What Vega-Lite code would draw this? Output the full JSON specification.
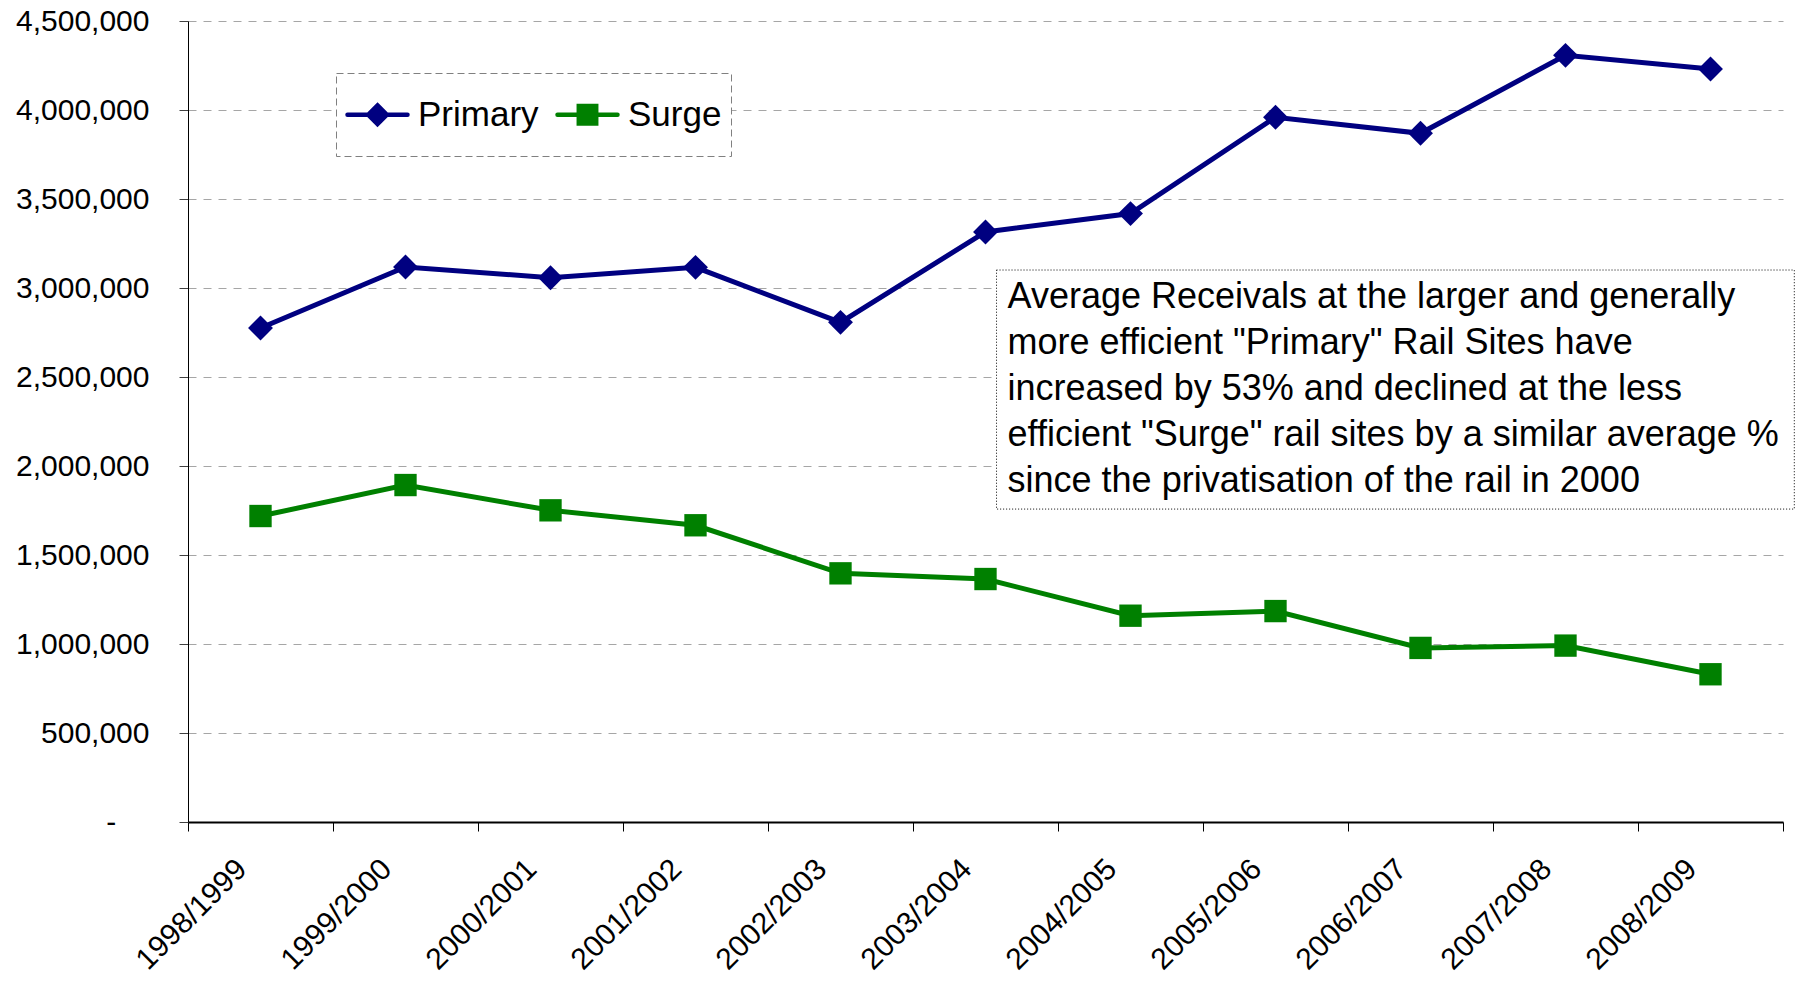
{
  "$schema": "https://vega.github.io/schema/vega-lite/v6.json",
  "width": 1595,
  "height": 801,
  "autosize": "none",
  "padding": {"left": 188, "top": 21, "right": 15, "bottom": 163},
  "background": "white",
  "config": {"font": "Liberation Sans", "view": {"stroke": null}},
  "data": {
    "values": [
      {"year": "1998/1999", "series": "Primary", "value": 2775000},
      {"year": "1999/2000", "series": "Primary", "value": 3118000},
      {"year": "2000/2001", "series": "Primary", "value": 3058000},
      {"year": "2001/2002", "series": "Primary", "value": 3116000},
      {"year": "2002/2003", "series": "Primary", "value": 2807000},
      {"year": "2003/2004", "series": "Primary", "value": 3315000},
      {"year": "2004/2005", "series": "Primary", "value": 3418000},
      {"year": "2005/2006", "series": "Primary", "value": 3959000},
      {"year": "2006/2007", "series": "Primary", "value": 3869000},
      {"year": "2007/2008", "series": "Primary", "value": 4307000},
      {"year": "2008/2009", "series": "Primary", "value": 4230000},
      {"year": "1998/1999", "series": "Surge", "value": 1719000},
      {"year": "1999/2000", "series": "Surge", "value": 1893000},
      {"year": "2000/2001", "series": "Surge", "value": 1751000},
      {"year": "2001/2002", "series": "Surge", "value": 1667000},
      {"year": "2002/2003", "series": "Surge", "value": 1397000},
      {"year": "2003/2004", "series": "Surge", "value": 1365000},
      {"year": "2004/2005", "series": "Surge", "value": 1159000},
      {"year": "2005/2006", "series": "Surge", "value": 1185000},
      {"year": "2006/2007", "series": "Surge", "value": 978000},
      {"year": "2007/2008", "series": "Surge", "value": 991000},
      {"year": "2008/2009", "series": "Surge", "value": 830000}
    ]
  },
  "layer": [
    {
      "encoding": {
        "x": {
          "field": "year",
          "type": "nominal",
          "sort": null,
          "scale": {"type": "band", "paddingInner": 0, "paddingOuter": 0},
          "axis": {
            "title": null,
            "labelAngle": -45,
            "labelAlign": "right",
            "labelBaseline": "middle",
            "labelFontSize": 30,
            "labelFont": "Liberation Sans",
            "labelColor": "black",
            "labelPadding": 33,
            "labelOffset": -19,
            "tickSize": 9,
            "tickColor": "black",
            "tickWidth": 1,
            "tickBand": "extent",
            "domainColor": "black",
            "domainWidth": 2,
            "grid": false
          }
        },
        "y": {
          "field": "value",
          "type": "quantitative",
          "scale": {"domain": [0, 4500000], "nice": false, "zero": true},
          "axis": {
            "title": null,
            "values": [0, 500000, 1000000, 1500000, 2000000, 2500000, 3000000, 3500000, 4000000, 4500000],
            "labelExpr": "datum.value === 0 ? '-\u00a0\u00a0\u00a0\u00a0\u200b' : format(datum.value, ',')",
            "labelFontSize": 30,
            "labelFont": "Liberation Sans",
            "labelColor": "black",
            "labelPadding": 30,
            "tickSize": 9,
            "tickColor": "#404040",
            "domainColor": "black",
            "domainWidth": 1,
            "grid": true,
            "gridDash": [8, 7],
            "gridColor": "#a6a6a6",
            "gridWidth": 1
          }
        },
        "color": {
          "field": "series",
          "type": "nominal",
          "scale": {"domain": ["Primary", "Surge"], "range": ["#000080", "#008000"]},
          "legend": {
            "orient": "none",
            "legendX": 148,
            "legendY": 52,
            "direction": "horizontal",
            "title": null,
            "labelFontSize": 35,
            "labelFont": "Liberation Sans",
            "labelColor": "black",
            "symbolSize": 3600,
            "labelOffset": 8,
            "columnPadding": 9,
            "padding": 9,
            "strokeColor": "#808080",
            "fillColor": "white",
            "symbolStrokeWidth": 4.5,
            "symbolOpacity": 1,
            "encode": {
              "legend": {"update": {"strokeDash": {"value": [7, 4]}}},
              "symbols": {
                "update": {
                  "shape": {"signal": "datum.value === 'Primary' ? 'M0,-0.77M0,0.77M-1,0L1,0M0,-0.31L0.31,0L0,0.31L-0.31,0Z' : 'M0,-0.77M0,0.77M-1,0L1,0M-0.29,-0.29L0.29,-0.29L0.29,0.29L-0.29,0.29Z'"},
                  "fill": {"signal": "datum.value === 'Primary' ? '#000080' : '#008000'"},
                  "stroke": {"signal": "datum.value === 'Primary' ? '#000080' : '#008000'"},
                  "strokeWidth": {"value": 4.5},
                  "strokeCap": {"value": "round"},
                  "fillOpacity": {"value": 1},
                  "strokeOpacity": {"value": 1}
                }
              }
            }
          }
        }
      },
      "layer": [
        {"mark": {"type": "line", "strokeWidth": 5}},
        {
          "transform": [{"filter": "datum.series === 'Primary'"}],
          "mark": {"type": "point", "shape": "diamond", "size": 620, "filled": true, "opacity": 1, "strokeWidth": 0}
        },
        {
          "transform": [{"filter": "datum.series === 'Surge'"}],
          "mark": {"type": "point", "shape": "square", "size": 500, "filled": true, "opacity": 1, "strokeWidth": 0}
        }
      ]
    },
    {
      "data": {"values": [{}]},
      "layer": [
        {
          "mark": {"type": "rect", "fill": "white", "stroke": "black", "strokeDash": [1, 2], "strokeWidth": 1},
          "encoding": {
            "x": {"datum": 5.576, "type": "quantitative", "scale": {"domain": [0, 11], "nice": false, "zero": false}, "axis": null},
            "x2": {"datum": 11.078},
            "y": {"datum": 3101000, "type": "quantitative"},
            "y2": {"datum": 1758000}
          }
        },
        {
          "mark": {"type": "text", "align": "left", "baseline": "alphabetic", "fontSize": 36, "font": "Liberation Sans", "color": "black", "lineHeight": 46},
          "encoding": {
            "x": {"datum": 5.652, "type": "quantitative", "scale": {"domain": [0, 11], "nice": false, "zero": false}, "axis": null},
            "y": {"datum": 2890000, "type": "quantitative"},
            "text": {"value": [
              "Average Receivals at the larger and generally",
              "more efficient \"Primary\" Rail Sites have",
              "increased by 53% and declined at the less",
              "efficient \"Surge\" rail sites by a similar average %",
              "since the privatisation of the rail in 2000"
            ]}
          }
        }
      ]
    }
  ],
  "resolve": {"scale": {"x": "independent"}, "axis": {"x": "independent"}}
}
